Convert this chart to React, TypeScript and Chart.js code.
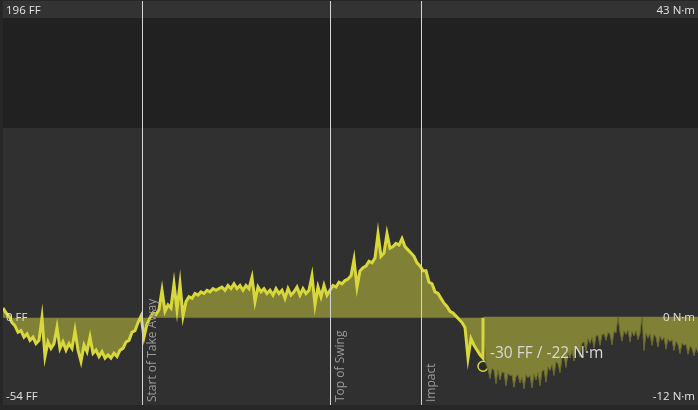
import { useEffect, useRef } from 'react'
import { Chart, registerables } from 'chart.js'

Chart.register(...registerables)

// FF samples, one every 3 time units starting at 0
const ffStep = 3
const ffValues = [
  6, 3, 1, -3, -5, -9, -8, -12, -10, -14,
  -12, -16, -14, 0, -24, -15, -19, -16, -6, -19,
  -15, -20, -16, -19, -8, -20, -27, -17, -21, -12,
  -22, -20, -24, -21, -25, -23, -25, -22, -24, -20,
  -19, -15, -14, -9, -8, -3, 1, -12, -4, 0,
  3, 2, 5, 17, 4, 8, 6, 21, 5, 21,
  1, 10, 13, 12, 15, 14, 16, 15, 17, 16,
  18, 17, 18, 19, 17, 20, 18, 21, 18, 20,
  17, 20, 18, 25, 10, 19, 16, 18, 15, 17,
  14, 18, 15, 17, 12, 18, 14, 16, 19, 14,
  18, 15, 17, 26, 8, 19, 13, 20, 14, 17,
  20, 19, 22, 21, 23, 24, 26, 36, 19, 29,
  31, 32, 35, 34, 37, 52, 38, 40, 52, 43,
  44, 46, 45, 49, 44, 42, 40, 38, 34, 32,
  29, 29, 22, 21, 16, 15, 12, 9, 7, 4,
  3, 1, -1, -3, -6, -25, -13, -17, -20, -23,
  -25,
]

// N·m samples, one every 2 time units
const nmStart = 481
const nmStep = 2
const nmValues = [
  -3.0, -6.4, -7.1, -8.4, -7.0, -7.3, -9.1, -7.2, -8.6, -7.5,
  -7.6, -9.4, -7.7, -8.0, -7.9, -9.6, -8.1, -7.9, -9.0, -8.2,
  -9.8, -7.9, -8.3, -8.0, -9.7, -7.8, -8.6, -7.6, -9.4, -7.4,
  -7.2, -8.9, -6.8, -7.3, -6.5, -8.0, -6.1, -6.4, -7.6, -5.6,
  -5.3, -6.9, -4.9, -5.6, -4.6, -6.0, -4.1, -4.4, -5.5, -3.6,
  -3.4, -4.7, -3.0, -3.6, -2.8, -4.2, -2.6, -2.5, -3.9, -2.4,
  -2.3, -3.2, -2.1, -2.4, -3.8, -2.0, -2.2, 0, -2.1, -3.3,
  -1.9, -2.4, -1.8, -3.4, -2.0, -2.6, -1.9, -3.1, -2.2, 0,
  -4.6, -2.2, -2.9, -2.3, -3.9, -2.4, -2.8, -4.1, -2.6, -3.2,
  -2.8, -4.4, -3.0, -3.4, -3.1, -4.6, -3.3, -3.8, -5.0, -3.6,
  -3.9, -3.7, -5.1, -4.0, -4.3, -5.3, -4.2, -4.9,
]

const events = ['Start of Take Away', 'Top of Swing', 'Impact']
const eventTimes = [139, 327, 418]

const ffMin = -54
const ffMax = 196
const nmMin = -12
const nmMax = 43

// background bands, in FF units
const bandEdges = [196, 185.5, 117.5, -54]
const bandColors = ['#333333', '#212121', '#303030']

const cursorTime = 480
const cursorFF = -30
const cursorNm = -22

const lineColor = '#d8d83c'
const fillColor = 'rgb(128,128,54)'

const App = () => {
  const chartRef = useRef<HTMLCanvasElement>(null)
  const chartInstance = useRef<Chart | null>(null)

  useEffect(() => {
    if (!chartRef.current) return
    if (chartInstance.current) chartInstance.current.destroy()

    const ffData = ffValues.map((v, i) => ({ x: i * ffStep, y: v }))
    // series closes back to zero at the cursor
    ffData.push({ x: cursorTime, y: 0 })
    const nmData = nmValues.map((v, i) => ({ x: nmStart + i * nmStep, y: v }))

    const backdrop = {
      id: 'backdrop',
      beforeDraw: (chart: any) => {
        const { ctx, chartArea: a, scales } = chart
        ctx.save()
        ctx.fillStyle = '#272727'
        ctx.fillRect(0, 0, chart.width, chart.height)
        const y = scales.yFF
        for (let i = 0; i < bandColors.length; i++) {
          const top = Math.round(y.getPixelForValue(bandEdges[i]))
          const bottom = Math.round(y.getPixelForValue(bandEdges[i + 1]))
          ctx.fillStyle = bandColors[i]
          ctx.fillRect(a.left, top, a.right - a.left, bottom - top)
        }
        ctx.restore()
      },
      afterDatasetsDraw: (chart: any) => {
        const { ctx, chartArea: a, scales } = chart
        const x = scales.x
        const yFF = scales.yFF
        ctx.save()

        // event markers
        eventTimes.forEach((t, i) => {
          const px = Math.round(x.getPixelForValue(t)) + 0.5
          ctx.strokeStyle = '#d4d4d4'
          ctx.lineWidth = 1
          ctx.beginPath()
          ctx.moveTo(px, a.top)
          ctx.lineTo(px, a.bottom)
          ctx.stroke()
          ctx.save()
          ctx.translate(px + 4, a.bottom - 3)
          ctx.rotate(-Math.PI / 2)
          ctx.fillStyle = '#9a9a9a'
          ctx.font = '12px "Open Sans"'
          ctx.textAlign = 'left'
          ctx.textBaseline = 'top'
          ctx.fillText(events[i], 0, 0)
          ctx.restore()
        })

        // axis labels
        ctx.fillStyle = '#e2e2e2'
        ctx.font = '11.5px "Open Sans"'
        const zero = yFF.getPixelForValue(0)
        ctx.textBaseline = 'middle'
        ctx.textAlign = 'left'
        ctx.fillText(`${ffMax} FF`, a.left + 3, a.top + 10)
        ctx.fillText('0 FF', a.left + 3, zero)
        ctx.fillText(`${ffMin} FF`, a.left + 3, a.bottom - 8)
        ctx.textAlign = 'right'
        ctx.fillText(`${nmMax} N·m`, a.right - 3, a.top + 10)
        ctx.fillText('0 N·m', a.right - 3, zero)
        ctx.fillText(`${nmMin} N·m`, a.right - 3, a.bottom - 8)

        // cursor readout
        const cx = x.getPixelForValue(cursorTime)
        const cy = yFF.getPixelForValue(cursorFF)
        ctx.fillStyle = '#d8d8d8'
        ctx.font = '15.5px "Open Sans"'
        ctx.textAlign = 'left'
        ctx.textBaseline = 'middle'
        ctx.fillText(`${cursorFF} FF / ${cursorNm} N·m`, cx + 7, cy - 13)
        ctx.restore()
      },
    }

    chartInstance.current = new Chart(chartRef.current, {
      type: 'line',
      data: {
        datasets: [
          {
            label: 'FF',
            data: ffData,
            yAxisID: 'yFF',
            borderColor: lineColor,
            borderWidth: 3,
            backgroundColor: fillColor,
            fill: 'origin',
            pointRadius: 0,
            tension: 0,
          },
          {
            label: 'N·m',
            data: nmData,
            yAxisID: 'yNm',
            borderColor: '#6a6a2e',
            borderWidth: 1,
            backgroundColor: fillColor,
            fill: 'origin',
            pointRadius: 0,
            tension: 0,
          },
          {
            label: 'cursor',
            data: [{ x: cursorTime, y: cursorFF }],
            yAxisID: 'yFF',
            showLine: false,
            pointRadius: 5,
            pointBorderWidth: 1.5,
            pointBorderColor: lineColor,
            pointBackgroundColor: '#2c2c2c',
          },
        ],
      },
      options: {
        responsive: false,
        animation: false,
        layout: { autoPadding: false, padding: { left: 3, top: 1, right: 0, bottom: 5 } },
        plugins: {
          legend: { display: false },
          tooltip: { enabled: false },
        },
        scales: {
          x: { type: 'linear', min: 0, max: 695, display: false },
          yFF: { type: 'linear', min: ffMin, max: ffMax, display: false },
          yNm: { type: 'linear', min: nmMin, max: nmMax, display: false },
        },
      },
      plugins: [backdrop],
    })

    return () => {
      if (chartInstance.current) {
        chartInstance.current.destroy()
        chartInstance.current = null
      }
    }
  }, [])

  return (
    <div style={{ position: 'fixed', left: 0, top: 0, width: 698, height: 410 }}>
      <canvas ref={chartRef} width={698} height={410}></canvas>
    </div>
  )
}

export default App
